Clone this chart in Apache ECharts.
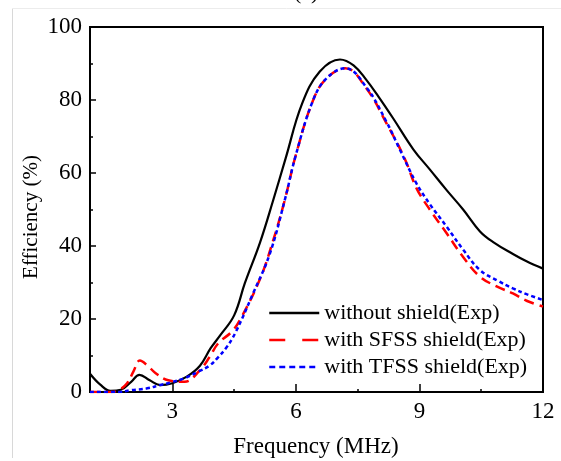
<!DOCTYPE html>
<html>
<head>
<meta charset="utf-8">
<script src="https://cdn.jsdelivr.net/npm/echarts@6/dist/echarts.min.js"></script>
<style>html,body{margin:0;padding:0;background:#fff;}#c{width:561px;height:461px;}</style>
</head>
<body>
<div id="c"></div>
<script>
// Frequency (MHz) / Efficiency (%) pairs
const freqWithout = [1.0,1.25,1.5,1.75,2.0,2.2,2.45,2.7,3.0,3.35,3.67,3.93,4.16,4.5,4.76,5.13,5.45,5.75,6.15,6.58,7.07,7.4,7.71,8.0,8.36,8.85,9.25,9.66,10.06,10.47,10.8,11.27,11.6,12.0];
const effWithout  = [5.0,2.0,0.3,0.6,2.8,4.7,3.2,1.9,2.4,4.2,7.2,12,15.5,21,29.8,41,52.6,64,79,87.8,91.1,89.5,85.5,81,75,66.5,61,55.3,50,44,41,37.8,35.8,33.8];

const freqSFSS = [1.0,1.5,1.7,1.9,2.05,2.21,2.4,2.58,2.9,3.3,3.67,3.9,4.11,4.44,4.64,5.13,5.45,5.73,6.0,6.42,6.75,7.2,7.71,8.2,8.64,8.93,9.25,9.66,10.06,10.47,10.9,11.27,11.6,12.0];
const effSFSS  = [0,0,0.5,2.4,5.5,8.6,7.2,5.3,3.2,2.8,6,9.5,13.3,16.5,19.7,31,41.6,52.6,65,80,86,88.7,83.2,73.6,64,55.8,50,43.5,37,31.6,28.8,27,25,23.4];

const freqTFSS = [1.0,1.7,2.0,2.39,2.7,2.96,3.3,3.63,3.9,4.11,4.3,4.52,4.96,5.37,5.73,6.0,6.42,6.75,7.2,7.71,8.2,8.52,8.93,9.25,9.66,10.06,10.47,10.9,11.27,11.6,12.0];
const effTFSS  = [0,0,0.5,1.0,1.9,2.6,3.8,5.6,7.2,9.5,12,16,27,38,52.6,65,80,86,88.7,83.5,74,66.5,57.1,51.5,45.3,39,33.4,30.5,28.4,26.8,25.2];

const xMajorTicks = [3,6,9,12];
const xMinorTicks = [4.5,7.5,10.5];
const seriesNames = ['without shield(Exp)','with SFSS shield(Exp)','with TFSS shield(Exp)'];

const zip = (a,b) => a.map((v,i)=>[v,b[i]]);
const FONT = 'Liberation Serif';
const noSymbol = {color:'rgba(0,0,0,0)',borderWidth:0,opacity:0};

const chart = echarts.init(document.getElementById('c'), null, {renderer:'canvas'});
chart.setOption({
  animation:false,
  backgroundColor:'#fff',
  grid:{left:90,right:18,top:27,bottom:69,show:true,borderColor:'#000',borderWidth:2,
        backgroundColor:'transparent',containLabel:false,outerBoundsMode:'none'},
  legend:{
    orient:'vertical', left:263, top:297, itemWidth:50, itemHeight:14, itemGap:5,
    textStyle:{fontFamily:FONT,fontSize:22,color:'#000'},
    itemStyle:noSymbol,
    data:[
      {name:seriesNames[0], itemStyle:noSymbol, lineStyle:{type:'solid',width:2.5}},
      {name:seriesNames[1], itemStyle:noSymbol, lineStyle:{type:[16,17],width:2.5}},
      {name:seriesNames[2], itemStyle:noSymbol, lineStyle:{type:[6,4],width:2.5}}
    ]
  },
  xAxis:[{
    type:'value', min:1, max:12,
    axisLine:{show:true,lineStyle:{color:'#000',width:2}},
    axisTick:{show:true,inside:true,length:8,customValues:xMajorTicks,lineStyle:{color:'#000',width:1.5}},
    axisLabel:{customValues:xMajorTicks,fontFamily:FONT,fontSize:23,color:'#000',margin:8},
    splitLine:{show:false}
  },{
    type:'value', min:1, max:12, position:'bottom',
    axisLine:{show:false},
    axisTick:{show:true,inside:true,length:3,customValues:xMinorTicks,lineStyle:{color:'#000',width:1.5}},
    axisLabel:{show:false},
    splitLine:{show:false}
  }],
  yAxis:{
    type:'value', min:0, max:100, interval:20,
    axisLine:{show:true,lineStyle:{color:'#000',width:2}},
    axisTick:{show:true,inside:true,length:6,lineStyle:{color:'#000',width:1.5}},
    minorTick:{show:true,splitNumber:2,length:3,lineStyle:{color:'#000',width:1.5}},
    axisLabel:{fontFamily:FONT,fontSize:23,color:'#000',margin:8},
    splitLine:{show:false}
  },
  series:[
    {name:seriesNames[0],type:'line',data:zip(freqWithout,effWithout),smooth:0.4,symbol:'none',
     lineStyle:{color:'#000',width:2.2,type:'solid'},itemStyle:{color:'#000'}},
    {name:seriesNames[1],type:'line',data:zip(freqSFSS,effSFSS),smooth:0.4,symbol:'none',
     lineStyle:{color:'#ff0000',width:2.5,type:[10,6]},itemStyle:{color:'#ff0000'}},
    {name:seriesNames[2],type:'line',data:zip(freqTFSS,effTFSS),smooth:0.4,symbol:'none',
     lineStyle:{color:'#0000ff',width:2.5,type:[4,3]},itemStyle:{color:'#0000ff'}}
  ],
  graphic:[
    {type:'line',shape:{x1:12.5,y1:8,x2:12.5,y2:458},style:{stroke:'#d8d8d8',lineWidth:1},silent:true},
    {type:'line',shape:{x1:12,y1:8.5,x2:561,y2:8.5},style:{stroke:'#ececec',lineWidth:1},silent:true},
    {type:'text',left:294,top:-18,style:{text:'(a)',font:'22px "Liberation Serif"',fill:'#000'},silent:true},
    {type:'text',x:31,y:217,rotation:Math.PI/2,
     style:{text:'Efficiency (%)',font:'21px "Liberation Serif"',fill:'#000',align:'center',verticalAlign:'middle'},silent:true},
    {type:'text',x:316,y:447,
     style:{text:'Frequency (MHz)',font:'23px "Liberation Serif"',fill:'#000',align:'center',verticalAlign:'middle'},silent:true}
  ]
});
</script>
</body>
</html>
